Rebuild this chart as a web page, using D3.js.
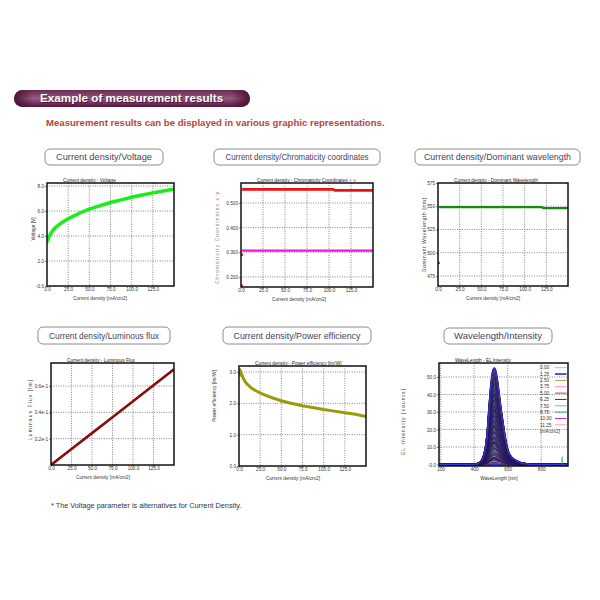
<!DOCTYPE html>
<html><head><meta charset="utf-8">
<script src="https://cdn.jsdelivr.net/npm/d3@7"></script>
<style>body{margin:0;background:#fff;} svg{display:block;font-family:"Liberation Sans",Arial,sans-serif;}</style>
</head><body><svg id="c" width="600" height="600"></svg>
<script>
// ---------------- DATA ----------------
const xTicksCD = [0, 25, 50, 75, 100, 125];
const xTickLabelsCD = ["0.0", "25.0", "50.0", "75.0", "100.0", "125.0"];

// Current density / Voltage
const currentV = [0, 1.25, 2.5, 5, 7.5, 10, 15, 20, 25, 30, 40, 50, 60, 75, 90, 100, 112.5, 125, 137.5, 150];
const voltage = [3.5, 3.75, 3.95, 4.25, 4.5, 4.68, 4.95, 5.18, 5.38, 5.55, 5.88, 6.15, 6.37, 6.68, 6.93, 7.1, 7.28, 7.45, 7.6, 7.75];
const voltTicks = [0, 2, 4, 6, 8];
const voltTickLabels = ["-0.0", "2.0", "4.0", "6.0", "8.0"];

// Current density / Chromaticity coordinates
const currentC = [0, 1.25, 25, 50, 75, 100, 105, 106.25, 125, 150];
const chromaX = [0.165, 0.307, 0.307, 0.307, 0.307, 0.307, 0.307, 0.307, 0.307, 0.307];
const chromaY = [0.29, 0.555, 0.555, 0.555, 0.555, 0.555, 0.555, 0.551, 0.551, 0.551];
const chromaTicks = [0.2, 0.3, 0.4, 0.5];
const chromaTickLabels = ["0.200", "0.300", "0.400", "0.500"];

// Current density / Dominant wavelength
const currentD = [0, 1.25, 25, 50, 75, 100, 120, 121.25, 150];
const domWavelength = [489, 549, 549, 549, 549, 549, 549, 548, 548];
const domTicks = [475, 500, 525, 550, 575];
const domTickLabels = ["475", "500", "525", "550", "575"];

// Current density / Luminous flux
const currentL = [0, 25, 50, 75, 100, 125, 150];
const lumFlux = [0, 0.0121, 0.0242, 0.0363, 0.0485, 0.0606, 0.0727];
const lumTicks = [0.02, 0.04, 0.06];
const lumTickLabels = ["0.2e-1", "0.4e-1", "0.6e-1"];

// Current density / Power efficiency
const currentP = [0, 1.25, 2.5, 5, 7.5, 10, 15, 20, 25, 30, 40, 50, 60, 75, 90, 100, 112.5, 125, 137.5, 150];
const powerEff = [2.85, 3.07, 2.97, 2.8, 2.68, 2.6, 2.48, 2.4, 2.33, 2.27, 2.17, 2.08, 2.01, 1.92, 1.85, 1.8, 1.75, 1.7, 1.65, 1.58];
const peTicks = [0, 1, 2, 3];
const peTickLabels = ["0.0", "1.0", "2.0", "3.0"];

// Wavelength / Intensity
const wavelengths = [190, 300, 400, 420, 440, 450, 460, 470, 480, 490, 500, 510, 520, 530, 540, 550, 560, 570, 580, 590, 600, 620, 640, 660, 680, 700, 750, 850, 960];
const relIntensity = [0, 0, 0, 0.008, 0.03, 0.06, 0.11, 0.2, 0.36, 0.6, 0.82, 0.96, 1.0, 0.96, 0.85, 0.71, 0.57, 0.45, 0.33, 0.23, 0.15, 0.08, 0.05, 0.03, 0.015, 0.008, 0, 0, 0];
const spectrumPeaks = [0.0, 0.9, 1.8, 2.8, 3.7, 4.6, 5.5, 6.4, 7.3, 8.3, 9.2, 10.1, 11.0, 11.9, 12.8, 13.8, 14.7, 15.6, 16.5, 17.4, 18.3, 19.3, 20.2, 21.1, 22.0, 22.9, 23.8, 24.8, 25.7, 26.6, 27.5, 28.4, 29.3, 30.3, 31.2, 32.1, 33.0, 33.9, 34.8, 35.8, 36.7, 37.6, 38.5, 39.4, 40.3, 41.3, 42.2, 43.1, 44.0, 44.9, 45.8, 46.8, 47.7, 48.6, 49.5, 50.4, 51.3, 52.3, 53.2, 54.1, 55.0];
const spikeWavelength = [925];
const spikeValue = [4.5];
const legendLabels = ["0.00", "1.25", "2.50", "3.75", "5.00", "6.25", "7.50", "8.75", "10.00", "11.25"];
const legendUnit = "[mA/cm2]";
const legendColors = ["#8fdc8f", "#3b3bff", "#a3a33c", "#ff80ff", "#c83c46", "#2b2b8f", "#7cc47c", "#2fa3a3", "#c02fc0", "#ffa0a0"];
const wlTicks = [200, 400, 600, 800];
const wlTickLabels = ["200", "400", "600", "800"];
const intTicks = [0, 10, 20, 30, 40, 50];
const intTickLabels = ["-0.0", "10.0", "20.0", "30.0", "40.0", "50.0"];

// ---------------- DRAW ----------------
const svg = d3.select("#c");
const defs = svg.append("defs");

// Banner
const bg = defs.append("linearGradient").attr("id", "ban").attr("x1", 0).attr("y1", 0).attr("x2", 0).attr("y2", 1);
bg.append("stop").attr("offset", 0).attr("stop-color", "#6a2a52");
bg.append("stop").attr("offset", 0.5).attr("stop-color", "#96597f");
bg.append("stop").attr("offset", 1).attr("stop-color", "#561440");
const bh = defs.append("linearGradient").attr("id", "banh").attr("x1", 0).attr("y1", 0).attr("x2", 1).attr("y2", 0);
bh.append("stop").attr("offset", 0).attr("stop-color", "#3c0626").attr("stop-opacity", 0.8);
bh.append("stop").attr("offset", 0.08).attr("stop-color", "#3c0626").attr("stop-opacity", 0);
bh.append("stop").attr("offset", 0.92).attr("stop-color", "#3c0626").attr("stop-opacity", 0);
bh.append("stop").attr("offset", 1).attr("stop-color", "#3c0626").attr("stop-opacity", 0.8);
svg.append("rect").attr("x", 14).attr("y", 90).attr("width", 236).attr("height", 17).attr("rx", 8.5).attr("fill", "url(#ban)");
svg.append("rect").attr("x", 14).attr("y", 90).attr("width", 236).attr("height", 17).attr("rx", 8.5).attr("fill", "url(#banh)");
svg.append("text").attr("x", 41).attr("y", 103).attr("fill", "#2a0418").attr("opacity", 0.6)
  .attr("font-size", 11.7).attr("font-weight", "bold").text("Example of measurement results");
svg.append("text").attr("x", 40).attr("y", 102).attr("fill", "#fff")
  .attr("font-size", 11.7).attr("font-weight", "bold").text("Example of measurement results");

svg.append("text").attr("x", 46).attr("y", 125.5).attr("fill", "#b3463a")
  .attr("font-size", 9.6).attr("font-weight", "bold")
  .text("Measurement results can be displayed in various graphic representations.");

svg.append("text").attr("x", 51).attr("y", 507.5).attr("fill", "#333")
  .attr("font-size", 7.3).text("* The Voltage parameter is alternatives for Current Density.");

let clipId = 0;
function panel(p) {
  const g = svg.append("g");
  const x = d3.scaleLinear().domain(p.xDomain).range([p.left, p.right]);
  const y = d3.scaleLinear().domain(p.yDomain).range([p.bottom, p.top]);

  // title box
  g.append("rect").attr("x", p.box[0]).attr("y", p.box[1]).attr("width", p.box[2]).attr("height", p.box[3])
    .attr("rx", 5).attr("fill", "#fff").attr("stroke", "#8c8c8c").attr("stroke-width", 1);
  g.append("text").attr("x", p.box[0] + p.box[2] / 2).attr("y", p.box[1] + p.box[3] / 2 + 3.3)
    .attr("text-anchor", "middle").attr("font-size", 9.3).attr("fill", "#474260")
    .attr("textLength", p.boxTextLen).attr("lengthAdjust", "spacingAndGlyphs").text(p.boxTitle);

  // grid
  const gx = p.xTicks.filter(t => x(t) > p.left + 1.5 && x(t) < p.right - 1.5);
  const gy = p.yTicks.filter(t => y(t) < p.bottom - 1.5 && y(t) > p.top + 1.5);
  g.selectAll(null).data(gx).join("line")
    .attr("x1", d => x(d)).attr("x2", d => x(d)).attr("y1", p.top).attr("y2", p.bottom)
    .attr("stroke", "#666").attr("stroke-width", 0.8).attr("stroke-dasharray", "1,1.4");
  g.selectAll(null).data(gy).join("line")
    .attr("y1", d => y(d)).attr("y2", d => y(d)).attr("x1", p.left).attr("x2", p.right)
    .attr("stroke", "#666").attr("stroke-width", 0.8).attr("stroke-dasharray", "1,1.4");

  // axes
  const ax = g.append("g").attr("transform", `translate(0,${p.bottom})`)
    .call(d3.axisBottom(x).tickValues(p.xTicks).tickFormat((d, i) => p.xTickLabels[i]).tickSizeInner(1.5).tickSizeOuter(0).tickPadding(0.6));
  const ay = g.append("g").attr("transform", `translate(${p.left},0)`)
    .call(d3.axisLeft(y).tickValues(p.yTicks).tickFormat((d, i) => p.yTickLabels[i]).tickSizeInner(2).tickSizeOuter(0).tickPadding(1));
  [ax, ay].forEach(a => {
    a.select(".domain").remove();
    a.selectAll("text").attr("font-size", 4.7).attr("fill", "#333").attr("font-family", null);
    a.selectAll("line").attr("stroke", "#333").attr("stroke-width", 0.6);
  });

  // clip
  const cid = "clip" + (clipId++);
  defs.append("clipPath").attr("id", cid).append("rect")
    .attr("x", p.left).attr("y", p.top).attr("width", p.right - p.left).attr("height", p.bottom - p.top);
  const plot = g.append("g").attr("clip-path", `url(#${cid})`);
  p.draw(plot, x, y);

  // frame
  g.append("rect").attr("x", p.left).attr("y", p.top).attr("width", p.right - p.left).attr("height", p.bottom - p.top)
    .attr("fill", "none").attr("stroke", "#111").attr("stroke-width", 1.5);

  if (p.after) p.after(g, x, y);

  // inner title
  const t = g.append("text").attr("x", p.left + 16).attr("y", p.top - 0.6).attr("font-size", 4.8).attr("fill", "#222");
  t.append("tspan").text(p.innerTitle);
  if (p.titleExtra) p.titleExtra.forEach(e => t.append("tspan").attr("fill", e[1]).attr("font-size", 5.5).text(e[0]));

  // x axis title
  g.append("text").attr("x", p.xTitleX).attr("y", p.bottom + 13.5).attr("text-anchor", "middle")
    .attr("font-size", 4.8).attr("fill", "#333").text(p.xTitle);
  // y axis title
  const yt = g.append("text").attr("transform", `translate(${p.yTitleX},${p.yTitleY}) rotate(-90)`)
    .attr("text-anchor", "middle").attr("dy", "0.35em").attr("font-size", 4.8).attr("fill", p.yTitleColor || "#333");
  if (p.yTitleLen) yt.attr("textLength", p.yTitleLen).attr("lengthAdjust", "spacing");
  if (Array.isArray(p.yTitle)) p.yTitle.forEach(e => yt.append("tspan").attr("fill", e[1]).text(e[0]));
  else yt.text(p.yTitle);
}

function series(plot, x, y, xs, ys, color, width, isolateFirst) {
  const pts = xs.map((v, i) => [v, ys[i]]);
  const linePts = isolateFirst ? pts.slice(1) : pts;
  plot.append("path").attr("d", d3.line().x(d => x(d[0])).y(d => y(d[1]))(linePts))
    .attr("fill", "none").attr("stroke", color).attr("stroke-width", width).attr("stroke-linejoin", "round");
  if (isolateFirst) {
    plot.append("rect").attr("x", x(pts[0][0]) - 0.5).attr("y", y(pts[0][1]) - 1.2)
      .attr("width", 2.4).attr("height", 2.4).attr("fill", color);
  }
}

// 1. Voltage
panel({
  left: 47, right: 174, top: 183, bottom: 286,
  xDomain: [0, 150], yDomain: [0, 8.24],
  xTicks: xTicksCD, xTickLabels: xTickLabelsCD, yTicks: voltTicks, yTickLabels: voltTickLabels,
  box: [45, 149, 118, 16], boxTitle: "Current density/Voltage", boxTextLen: 96,
  innerTitle: "Current density - Voltage",
  xTitle: "Current density [mA/cm2]", xTitleX: 100,
  yTitle: "Voltage [V]", yTitleX: 33, yTitleY: 229,
  draw: (pl, x, y) => series(pl, x, y, currentV, voltage, "#18ee18", 3.4, false)
});

// 2. Chromaticity
panel({
  left: 241, right: 373, top: 183, bottom: 287,
  xDomain: [0, 150], yDomain: [0.159, 0.581],
  xTicks: xTicksCD, xTickLabels: xTickLabelsCD, yTicks: chromaTicks, yTickLabels: chromaTickLabels,
  box: [214, 149, 166, 16], boxTitle: "Current density/Chromaticity coordinates", boxTextLen: 143,
  innerTitle: "Current density - Chromaticity Coordinates ", titleExtra: [["x", "#ee33ee"], [" ", "#222"], ["y", "#ee2222"]],
  xTitle: "Current density [mA/cm2]", xTitleX: 299,
  yTitle: [["Chromaticity Coordinates ", "#888"], ["x", "#ee33ee"], [" ", "#888"], ["y", "#ee2222"]],
  yTitleLen: 92, yTitleX: 217, yTitleY: 238,
  draw: (pl, x, y) => {
    series(pl, x, y, currentC, chromaY, "#ee1111", 2.6, true);
    series(pl, x, y, currentC, chromaX, "#ee11ee", 2.2, true);
  }
});

// 3. Dominant wavelength
panel({
  left: 438, right: 568, top: 183, bottom: 286,
  xDomain: [0, 150], yDomain: [464.2, 575],
  xTicks: xTicksCD, xTickLabels: xTickLabelsCD, yTicks: domTicks, yTickLabels: domTickLabels,
  box: [415, 149, 165, 16], boxTitle: "Current density/Dominant wavelength", boxTextLen: 147,
  innerTitle: "Current density - Dominant Wavelength",
  xTitle: "Current density [mA/cm2]", xTitleX: 493,
  yTitle: "Dominant Wavelength [nm]", yTitleLen: 74, yTitleX: 424, yTitleY: 235,
  draw: (pl, x, y) => series(pl, x, y, currentD, domWavelength, "#138a13", 2.4, true)
});

// 4. Luminous flux
panel({
  left: 51, right: 174, top: 363, bottom: 465,
  xDomain: [0, 150], yDomain: [0, 0.0775],
  xTicks: xTicksCD, xTickLabels: xTickLabelsCD, yTicks: lumTicks, yTickLabels: lumTickLabels,
  box: [38, 327, 132, 17], boxTitle: "Current density/Luminous flux", boxTextLen: 110,
  innerTitle: "Current density - Luminous Flux",
  xTitle: "Current density [mA/cm2]", xTitleX: 103,
  yTitle: "Luminous Flux [lm]", yTitleLen: 60, yTitleX: 30, yTitleY: 410,
  draw: (pl, x, y) => series(pl, x, y, currentL, lumFlux, "#8a0c0c", 2.6, false)
});

// 5. Power efficiency
panel({
  left: 239, right: 366, top: 366, bottom: 466,
  xDomain: [0, 150], yDomain: [0, 3.19],
  xTicks: xTicksCD, xTickLabels: xTickLabelsCD, yTicks: peTicks, yTickLabels: peTickLabels,
  box: [223, 327, 148, 17], boxTitle: "Current density/Power efficiency", boxTextLen: 127,
  innerTitle: "Current density - Power efficiency [lm/W]",
  xTitle: "Current density [mA/cm2]", xTitleX: 293,
  yTitle: "Power efficiency [lm/W]", yTitleLen: 52, yTitleX: 214, yTitleY: 396,
  draw: (pl, x, y) => series(pl, x, y, currentP, powerEff, "#9a9a0c", 3, false)
});

// 6. Wavelength / Intensity
panel({
  left: 439, right: 568, top: 363, bottom: 466,
  xDomain: [190, 960], yDomain: [-0.86, 58],
  xTicks: wlTicks, xTickLabels: wlTickLabels, yTicks: intTicks, yTickLabels: intTickLabels,
  box: [444, 328, 108, 16], boxTitle: "Wavelength/Intensity", boxTextLen: 88,
  innerTitle: "WaveLength - EL Intensity",
  xTitle: "WaveLength [nm]", xTitleX: 499,
  yTitle: "EL Intensity [counts]", yTitleLen: 66, yTitleX: 403, yTitleY: 422,
  draw: (pl, x, y) => {
    const line = d3.line().x(d => x(d[0])).y(d => y(d[1])).curve(d3.curveMonotoneX);
    const curves = pl.selectAll(null).data(spectrumPeaks).join("g");
    curves.append("path")
      .attr("d", pk => line(wavelengths.map((w, j) => [w, relIntensity[j] * pk])))
      .attr("fill", "none").attr("stroke", "#241a5c").attr("stroke-width", 1.9);
    curves.append("path")
      .attr("d", pk => line(wavelengths.map((w, j) => [w, relIntensity[j] * pk])))
      .attr("fill", "none").attr("stroke", (d, i) => legendColors[(i + 1) % legendColors.length])
      .attr("stroke-width", 0.9);
    pl.selectAll(null).data(spikeWavelength).join("line")
      .attr("x1", d => x(d)).attr("x2", d => x(d)).attr("y1", y(0)).attr("y2", (d, i) => y(spikeValue[i]))
      .attr("stroke", "#22aa22").attr("stroke-width", 1);
  },
  after: (g) => {
    const lg = g.append("g");
    legendLabels.forEach((lab, i) => {
      const ly = 367.7 + i * 6.35;
      lg.append("text").attr("x", 540).attr("y", ly + 1.7).attr("font-size", 4.7).attr("fill", "#333").text(lab);
      lg.append("line").attr("x1", 555).attr("x2", 566.5).attr("y1", ly).attr("y2", ly)
        .attr("stroke", legendColors[i]).attr("stroke-width", i === 1 ? 1.8 : 1);
    });
    lg.append("text").attr("x", 540).attr("y", 367.7 + 10 * 6.35 + 1.7).attr("font-size", 4.7).attr("fill", "#333").text(legendUnit);
  }
});
</script>
</body></html>
